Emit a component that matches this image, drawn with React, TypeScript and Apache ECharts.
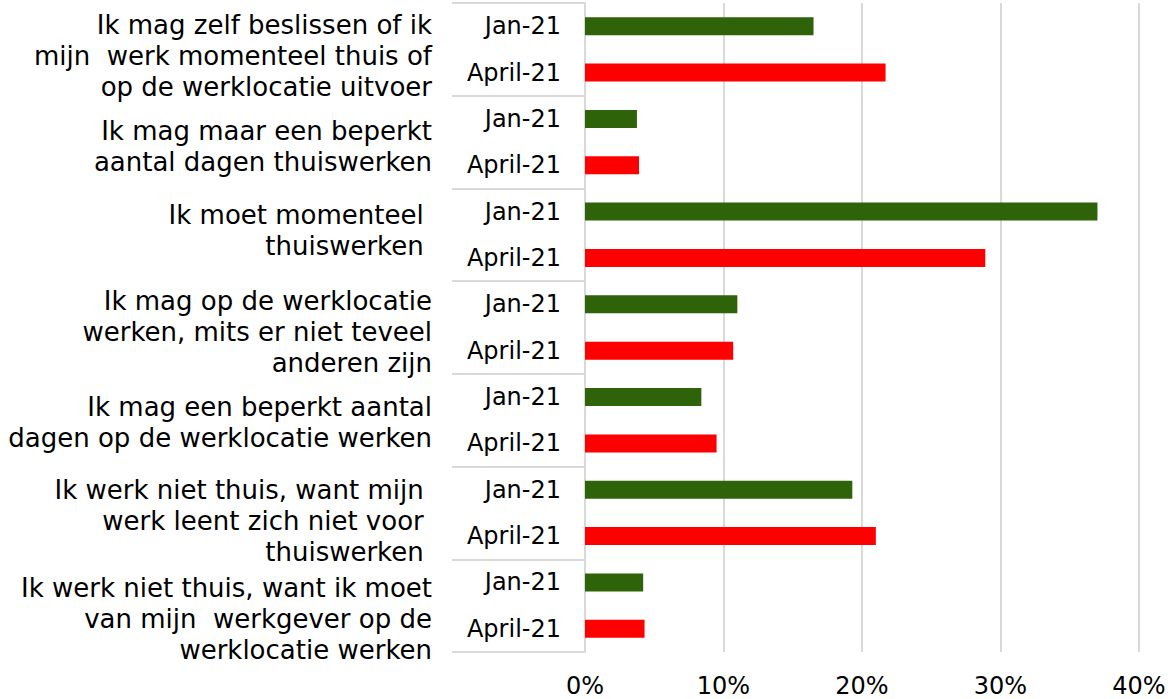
import React, { useEffect, useRef } from "react";
import * as echarts from "echarts";

const groups = [
  "Ik mag zelf beslissen of ik\nmijn  werk momenteel thuis of\nop de werklocatie uitvoer",
  "Ik mag maar een beperkt\naantal dagen thuiswerken",
  "Ik moet momenteel \nthuiswerken ",
  "Ik mag op de werklocatie\nwerken, mits er niet teveel\nanderen zijn",
  "Ik mag een beperkt aantal\ndagen op de werklocatie werken",
  "Ik werk niet thuis, want mijn \nwerk leent zich niet voor \nthuiswerken ",
  "Ik werk niet thuis, want ik moet\nvan mijn  werkgever op de\nwerklocatie werken",
];
const periods = ["Jan-21", "April-21"];
const janValues = [16.5, 3.75, 37.0, 11.0, 8.4, 19.3, 4.2];
const aprilValues = [21.7, 3.9, 28.9, 10.7, 9.5, 21.0, 4.3];
const xTicks = { min: 0, max: 40, interval: 10 };

// layout only: vertical nudge (px) of each group label from its band centre
const groupLabelNudge = [7, 4, -4, 4, 2, 8.5, 13.5];

const GREEN = "#2E6309";
const RED = "#FF0000";
const GRID = "#D9D9D9";
const FONT = "DejaVu Sans";

export default function App() {
  const ref = useRef<HTMLDivElement>(null);
  useEffect(() => {
    if (!ref.current) return;
    const chart = echarts.init(ref.current, undefined, { renderer: "svg" });
    const innerCats: string[] = [];
    const janData: (number | string)[] = [];
    const aprData: (number | string)[] = [];
    groups.forEach((_, i) => {
      innerCats.push(periods[0], periods[1]);
      janData.push(janValues[i], "-");
      aprData.push("-", aprilValues[i]);
    });
    chart.setOption({
      animation: false,
      grid: { left: 585, right: 29, top: 3, bottom: 47, outerBoundsMode: "none" },
      xAxis: {
        type: "value",
        min: xTicks.min,
        max: xTicks.max,
        interval: xTicks.interval,
        axisLine: { show: false },
        axisTick: { show: false },
        axisLabel: {
          formatter: "{value}%",
          fontFamily: FONT,
          fontSize: 24,
          color: "#000",
          margin: 22,
        },
        splitLine: { lineStyle: { color: GRID, width: 2 } },
      },
      yAxis: [
        {
          type: "category",
          data: innerCats,
          inverse: true,
          position: "left",
          axisLine: { show: true, lineStyle: { color: GRID, width: 2 } },
          axisTick: { show: false },
          axisLabel: {
            interval: 0,
            fontFamily: FONT,
            fontSize: 24,
            color: "#000",
            margin: 24,
          },
        },
        {
          type: "category",
          data: groups,
          inverse: true,
          position: "left",
          offset: 133,
          axisLine: { show: false },
          axisTick: {
            show: true,
            inside: true,
            length: 132,
            lineStyle: { color: GRID, width: 2 },
          },
          axisLabel: { show: false },
        },
      ],
      series: [
        {
          name: periods[0],
          type: "bar",
          yAxisIndex: 0,
          stack: "all",
          barWidth: 18,
          data: janData,
          itemStyle: { color: GREEN },
        },
        {
          name: periods[1],
          type: "bar",
          yAxisIndex: 0,
          stack: "all",
          barWidth: 18,
          data: aprData,
          itemStyle: { color: RED },
        },
      ],
    });
    const labelX = (chart.convertToPixel({ xAxisIndex: 0 }, xTicks.min) as number) - 153;
    const graphics = groups.map((g, i) => {
      const y = chart.convertToPixel({ yAxisIndex: 1 }, g) as number;
      return {
        type: "text",
        x: labelX,
        y: y + groupLabelNudge[i],
        style: {
          text: g,
          align: "right",
          verticalAlign: "middle",
          fontFamily: FONT,
          fontSize: 26,
          lineHeight: 31,
          fill: "#000",
        },
      };
    });
    chart.setOption({ graphic: graphics });
    return () => chart.dispose();
  }, []);
  return (
    <div
      ref={ref}
      style={{ position: "absolute", left: 0, top: 0, width: 1168, height: 699 }}
    />
  );
}
